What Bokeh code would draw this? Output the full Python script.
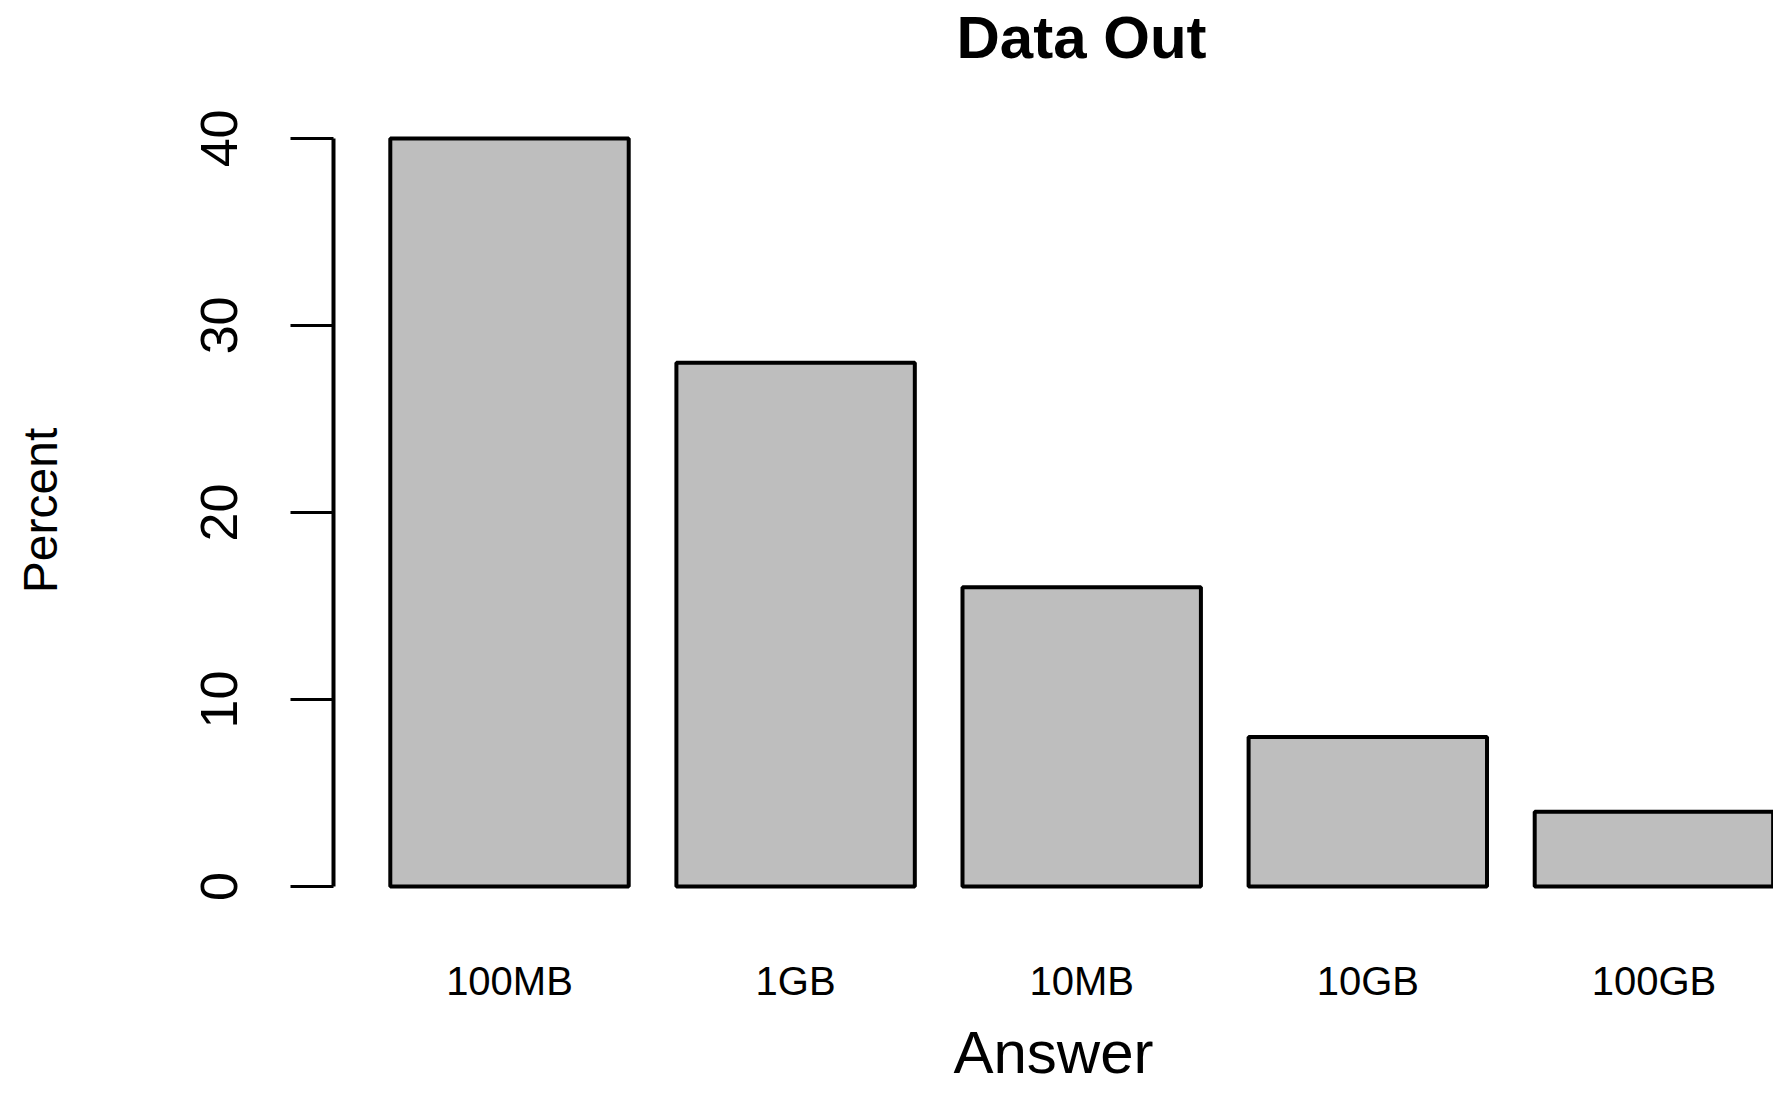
import numpy as np
from bokeh.plotting import figure
from bokeh.models import Range1d, FixedTicker, ColumnDataSource
from bokeh.embed import file_html
from bokeh.resources import INLINE

title_text = "Data Out"
categories = ["100MB", "1GB", "10MB", "10GB", "100GB"]
percent = [40, 28, 16, 8, 4]
y_ticks = [0, 10, 20, 30, 40]

FONT = "Liberation Sans"
idx = list(range(len(categories)))
src = ColumnDataSource(dict(x=idx, top=percent, cat=categories))

p = figure(width=1773, height=1090, output_backend="svg", toolbar_location=None,
           x_range=Range1d(-0.6152, 4.418), y_range=Range1d(-3.42, 43.63),
           min_border_left=333, min_border_right=0, min_border_top=70, min_border_bottom=140,
           title=title_text)
p.outline_line_color = None
p.xgrid.visible = False
p.ygrid.visible = False
p.background_fill_color = "white"
p.border_fill_color = "white"

p.vbar(x="x", top="top", bottom=0, width=1/1.2, source=src,
       fill_color="#BEBEBE", line_color="black", line_width=4)

p.title.text_font = FONT
p.title.text_font_size = "60px"
p.title.text_font_style = "bold"
p.title.text_color = "black"
p.title.align = "left"
p.title.offset = 623
p.title.standoff = 0

ya = p.yaxis[0]
ya.ticker = FixedTicker(ticks=y_ticks)
ya.bounds = (0, 40)
ya.axis_line_width = 4
ya.major_tick_line_width = 3
ya.major_tick_in = 0
ya.major_tick_out = 43
ya.minor_tick_line_color = None
ya.major_label_orientation = "vertical"
ya.major_label_text_font = FONT
ya.major_label_text_font_size = "52px"
ya.major_label_text_color = "black"
ya.major_label_standoff = 53
ya.axis_label = "Percent"
ya.axis_label_text_font = FONT
ya.axis_label_text_font_size = "48px"
ya.axis_label_text_font_style = "normal"
ya.axis_label_text_color = "black"
ya.axis_label_standoff = 132

xa = p.xaxis[0]
xa.ticker = FixedTicker(ticks=idx)
xa.major_label_overrides = {i: c for i, c in zip(idx, categories)}
xa.axis_line_color = None
xa.major_tick_line_color = None
xa.major_tick_in = 0
xa.major_tick_out = 0
xa.minor_tick_line_color = None
xa.major_label_text_font = FONT
xa.major_label_text_font_size = "40px"
xa.major_label_text_color = "black"
xa.major_label_standoff = 8
xa.axis_label = "Answer"
xa.axis_label_text_font = FONT
xa.axis_label_text_font_size = "60px"
xa.axis_label_text_font_style = "normal"
xa.axis_label_text_color = "black"
xa.axis_label_standoff = 13

open("out.html", "w").write(file_html(p, INLINE))
